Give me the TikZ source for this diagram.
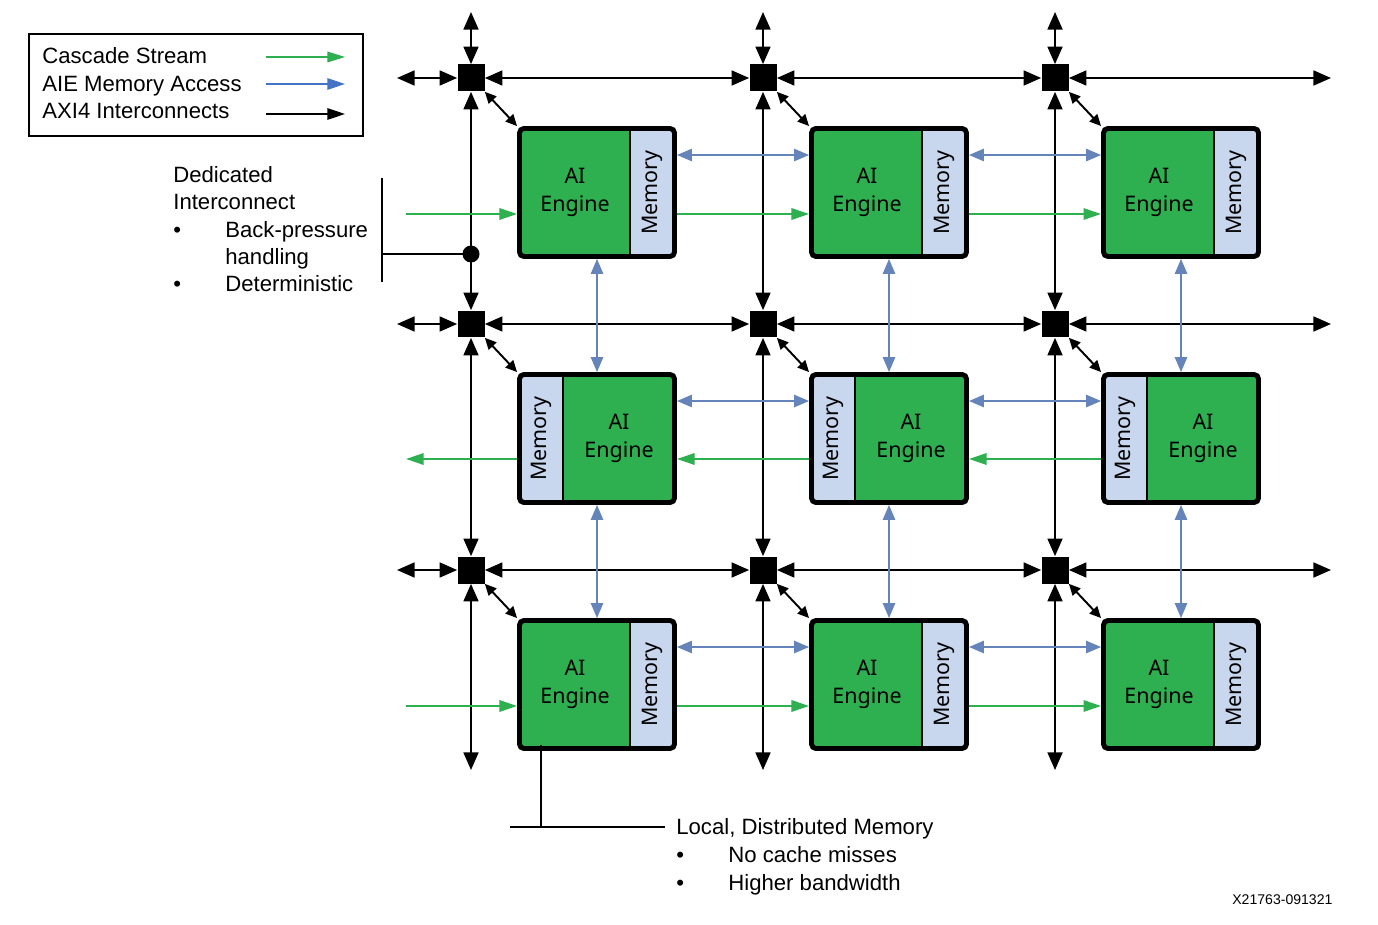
\documentclass[tikz,border=0pt]{standalone}
\usepackage{fontspec}
\setmainfont{Liberation Sans}
\newfontfamily\tilefont{Noto Sans}
\usetikzlibrary{arrows.meta,calc}
\definecolor{aiegreen}{RGB}{46,175,80}
\definecolor{memblue}{RGB}{200,214,238}
\definecolor{accblue}{RGB}{100,132,186}
\definecolor{legblue}{RGB}{68,114,196}
\tikzset{
 sw/.style={fill=black,minimum size=0.54cm,inner sep=0pt},
 tile/.style={draw,line width=2.8pt,rounded corners=2.5pt,fill=aiegreen,
   minimum width=3.1cm,minimum height=2.56cm,inner sep=0pt},
 memR/.style={tile,path picture={
   \fill[memblue] ([xshift=-0.89cm]path picture bounding box.north east) rectangle (path picture bounding box.south east);
   \draw[line width=1.1pt] ([xshift=-0.89cm]path picture bounding box.north east) -- ([xshift=-0.89cm]path picture bounding box.south east);}},
 memL/.style={tile,path picture={
   \fill[memblue] (path picture bounding box.north west) rectangle ([xshift=0.87cm]path picture bounding box.south west);
   \draw[line width=1.1pt] ([xshift=0.87cm]path picture bounding box.north west) -- ([xshift=0.87cm]path picture bounding box.south west);}},
 eng/.style={align=center,inner sep=0pt,font=\tilefont\fontsize{12.2}{15.9}\selectfont},
 memtxt/.style={rotate=90,inner sep=0pt,font=\tilefont\fontsize{12.2}{15}\selectfont},
 txt/.style={anchor=base west,inner sep=0pt,font=\fontsize{12.6}{15}\selectfont},
 axi/.style={line width=1.1pt,>={Triangle[length=10pt,width=8.5pt]}},
 diag/.style={line width=1.1pt,>={Triangle[length=6.5pt,width=6pt]}},
 cas/.style={aiegreen,line width=1pt,>={Triangle[length=10pt,width=6.5pt]}},
 acc/.style={accblue,line width=0.9pt,>={Triangle[length=8.5pt,width=7pt]}},
 dot/.style={circle,fill=black,minimum size=0.34cm,inner sep=0pt}
}
\begin{document}
\begin{tikzpicture}[x=0.02cm,y=-0.02cm]
\path[use as bounding box,fill=white] (0,0) rectangle (1378,925);

% switches
\foreach \c in {1,2,3}
 \foreach \r in {1,2,3}
  \node[sw] (s\c\r) at ({471+292*(\c-1)},{78+246*(\r-1)}) {};

% tiles, memory on the right
\foreach \c in {1,2,3}
 \foreach \r in {1,3} {
  \node[memR] (t\c\r) at ({597+292*(\c-1)},{192.5+246*(\r-1)}) {};
  \node[eng] (e\c\r) at ($(t\c\r)+(-22,0)$) {AI\\Engine};
  \node[memtxt] (m\c\r) at ($(t\c\r)+(55,0)$) {Memory};
 }
% tiles, memory on the left
\foreach \c in {1,2,3} {
  \node[memL] (t\c2) at ({597+292*(\c-1)},438.5) {};
  \node[eng] (e\c2) at ($(t\c2)+(22,0)$) {AI\\Engine};
  \node[memtxt] (m\c2) at ($(t\c2)+(-56,0)$) {Memory};
}

% AXI4 interconnect
\foreach \r in {1,2,3} {
  \coordinate (wl\r) at (397,{78+246*(\r-1)});
  \coordinate (wr\r) at (1331,{78+246*(\r-1)});
  \draw[axi,<->] (wl\r) -- (s1\r);
  \draw[axi,<->] (s1\r) -- (s2\r);
  \draw[axi,<->] (s2\r) -- (s3\r);
  \draw[axi,<->] (s3\r) -- (wr\r);
}
\foreach \c in {1,2,3} {
  \coordinate (vt\c) at ({471+292*(\c-1)},12);
  \coordinate (vb\c) at ({471+292*(\c-1)},770);
  \draw[axi,<->] (vt\c) -- (s\c1);
  \draw[axi,<->] (s\c1) -- (s\c2);
  \draw[axi,<->] (s\c2) -- (s\c3);
  \draw[axi,<->] (s\c3) -- (vb\c);
  \foreach \r in {1,2,3}
    \draw[diag,<->] (s\c\r.south east) -- (t\c\r.north west);
}

% cascade stream
\coordinate (gl1) at (406,214);
\coordinate (gl2) at (406,459);
\coordinate (gl3) at (406,706);
\foreach \r in {1,3} {
  \draw[cas,->] (gl\r) -- ([yshift=-0.43cm]t1\r.west);
  \draw[cas,->] ([yshift=-0.43cm]t1\r.east) -- ([yshift=-0.43cm]t2\r.west);
  \draw[cas,->] ([yshift=-0.43cm]t2\r.east) -- ([yshift=-0.43cm]t3\r.west);
}
\draw[cas,->] ([yshift=-0.41cm]t32.west) -- ([yshift=-0.41cm]t22.east);
\draw[cas,->] ([yshift=-0.41cm]t22.west) -- ([yshift=-0.41cm]t12.east);
\draw[cas,->] ([yshift=-0.41cm]t12.west) -- (gl2);

% memory access
\foreach \r in {1,2,3} {
  \draw[acc,<->] ([yshift=0.75cm]t1\r.east) -- ([yshift=0.75cm]t2\r.west);
  \draw[acc,<->] ([yshift=0.75cm]t2\r.east) -- ([yshift=0.75cm]t3\r.west);
}
\foreach \c in {1,2,3} {
  \draw[acc,<->] (t\c1) -- (t\c2);
  \draw[acc,<->] (t\c2) -- (t\c3);
}

% legend
\node[draw,line width=0.9pt,minimum width=6.68cm,minimum height=2.04cm] (leg) at (196,85) {};
\node[txt] (lcas) at (42,64) {Cascade Stream};
\node[txt] (lacc) at (42,92) {AIE Memory Access};
\node[txt] (laxi) at (42,119) {AXI4 Interconnects};
\coordinate (la1) at (266,57);  \coordinate (lb1) at (345,57);
\coordinate (la2) at (266,84);  \coordinate (lb2) at (345,84);
\coordinate (la3) at (266,114); \coordinate (lb3) at (345,114);
\draw[aiegreen,line width=0.9pt,-{Triangle[length=10pt,width=6pt]}] (la1) -- (lb1);
\draw[legblue,line width=0.9pt,-{Triangle[length=10pt,width=6.5pt]}] (la2) -- (lb2);
\draw[line width=0.9pt,-{Triangle[length=10pt,width=6.5pt]}] (la3) -- (lb3);

% dedicated interconnect
\node[dot] (jn) at (471,254) {};
\coordinate (bt) at (382,178);
\coordinate (bb) at (382,282);
\draw[line width=1.1pt] (bt) -- (bb);
\draw[line width=1.1pt] (jn.center) -- (jn.center -| bt);
\node[txt] (ded1) at (173,183) {Dedicated};
\node[txt] (ded2) at (173,210) {Interconnect};
\node[txt] (bul1) at (173,238) {•};
\node[txt] (ded3) at (225,238) {Back-pressure};
\node[txt] (ded4) at (225,265) {handling};
\node[txt] (bul2) at (173,292) {•};
\node[txt] (ded5) at (225,292) {Deterministic};

% local memory
\coordinate (lm) at (541,745);
\coordinate (lc) at (541,827);
\coordinate (ll) at (510,827);
\coordinate (lr) at (665,827);
\draw[line width=1.1pt] (lm) -- (lc);
\draw[line width=1.1pt] (ll) -- (lr);
\node[txt] (loc1) at (676,834) {Local, Distributed Memory};
\node[txt] (bul3) at (676,862) {•};
\node[txt] (loc2) at (728,862) {No cache misses};
\node[txt] (bul4) at (676,890) {•};
\node[txt] (loc3) at (728,890) {Higher bandwidth};

\node[anchor=base west,inner sep=0pt,font=\fontsize{8}{10}\selectfont] (fig) at (1232,904) {X21763-091321};
\end{tikzpicture}
\end{document}
